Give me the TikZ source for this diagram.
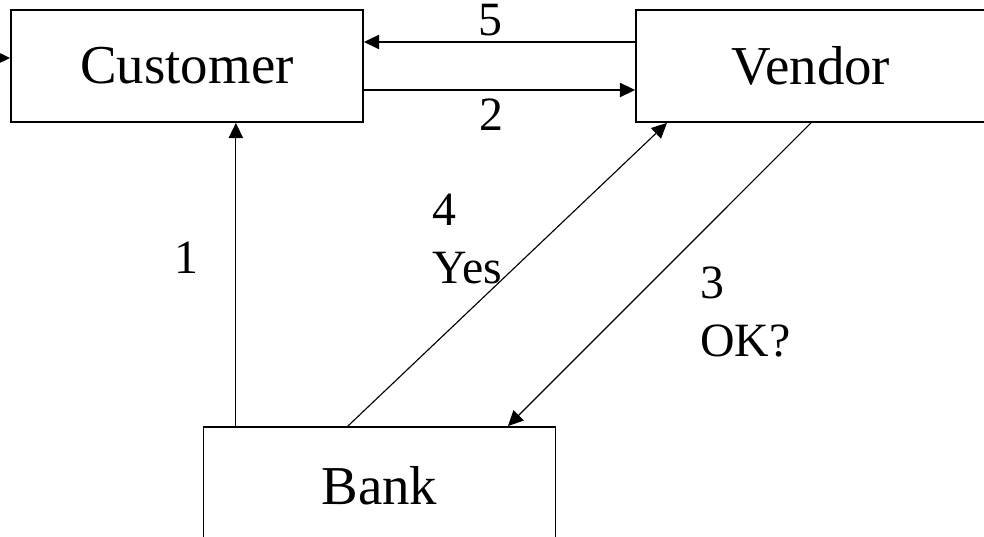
\documentclass[tikz,border=0pt]{standalone}
\usepackage{fontspec}
\setmainfont{Liberation Serif}
\usetikzlibrary{arrows.meta,positioning}
\tikzset{
  entity/.style={draw, line width=1.3pt, minimum width=8.8cm, minimum height=2.8cm, inner sep=0pt, font=\fontsize{39}{47}\selectfont},
  flow/.style={line width=0.8pt, -{Triangle[length=0.38cm,width=0.36cm]}},
  tag/.style={inner sep=0pt, align=left, font=\fontsize{34}{41}\selectfont}
}
\begin{document}
\begin{tikzpicture}[x=0.025cm, y=0.025cm]
  \useasboundingbox (0,0) rectangle (984,537);

  % Beteiligte
  \node[entity] (customer) at (187,471) {Customer};
  \node[entity, minimum width=8.75cm] (vendor) at (811,471) {Vendor};
  \node[entity, minimum height=2.95cm] (bank) at (379.5,51) {Bank};

  % Nachrichten
  \coordinate (entry) at (0,479);
  \draw[flow] (entry) -- (entry -| customer.west);
  \draw[flow] ([yshift=0.6cm]vendor.west) -- ([yshift=0.6cm]customer.east);   % 5
  \draw[flow] ([yshift=-0.6cm]customer.east) -- ([yshift=-0.6cm]vendor.west); % 2
  \draw[flow] ([xshift=-3.59cm]bank.north) -- ([xshift=-3.59cm]bank.north |- customer.south); % 1
  \draw[flow] ([xshift=-0.79cm]bank.north) -- ([xshift=-3.6cm]vendor.south);  % 4
  \draw[flow] (vendor.south) -- ([xshift=3.21cm]bank.north);                  % 3

  % Beschriftungen
  \node[tag] (l5) at (490,517) {5};
  \node[tag] (l2) at (491,422) {2};
  \node[tag] (l1) at (186,279) {1};
  \node[tag, anchor=west] (l4) at (432,298) {4\\Yes};
  \node[tag, anchor=west] (l3) at (700,225) {3\\OK?};
\end{tikzpicture}
\end{document}
